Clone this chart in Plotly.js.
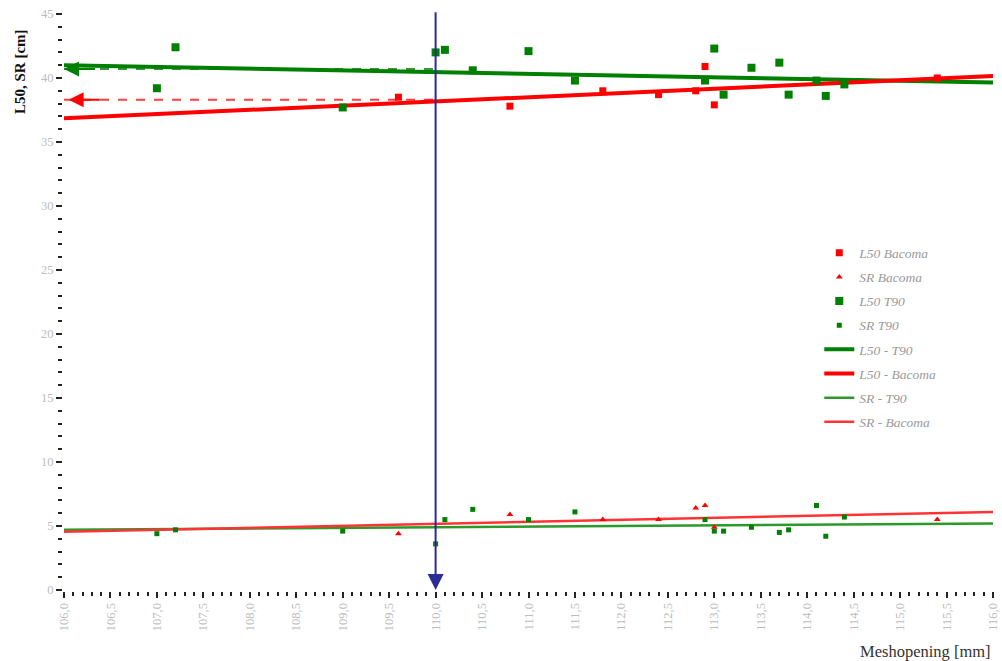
<!DOCTYPE html>
<html>
<head>
<meta charset="utf-8">
<script src="https://cdn.plot.ly/plotly-3.0.1.min.js"></script>
<style>
html,body{margin:0;padding:0;background:#fff;}
#chart{width:1002px;height:661px;}
</style>
</head>
<body>
<div id="chart"></div>
<script>
// ---- data ----
const l50BacomaX = [109.6, 110.8, 111.8, 112.4, 112.8, 112.9, 113.0, 115.4];
const l50BacomaY = [38.5, 37.8, 39.0, 38.7, 39.0, 40.9, 37.9, 40.0];

const srBacomaX = [109.6, 110.8, 111.8, 112.4, 112.8, 112.9, 113.0, 115.4];
const srBacomaY = [4.4, 5.9, 5.5, 5.5, 6.4, 6.6, 4.9, 5.5];

const l50T90X = [107.0, 107.2, 109.0, 110.0, 110.1, 110.4, 111.0, 111.5, 112.9, 113.0, 113.1, 113.4, 113.7, 113.8, 114.1, 114.2, 114.4];
const l50T90Y = [39.2, 42.4, 37.7, 42.0, 42.2, 40.6, 42.1, 39.8, 39.8, 42.3, 38.7, 40.8, 41.2, 38.7, 39.8, 38.6, 39.5];

const srT90X = [107.0, 107.2, 109.0, 110.0, 110.1, 110.4, 111.0, 111.5, 112.9, 113.0, 113.1, 113.4, 113.7, 113.8, 114.1, 114.2, 114.4];
const srT90Y = [4.4, 4.7, 4.6, 3.6, 5.5, 6.3, 5.5, 6.1, 5.5, 4.6, 4.6, 4.9, 4.5, 4.7, 6.6, 4.2, 5.7];

// regression lines (end values)
const trendX = [106.0, 116.0];
const l50T90Trend = [41.0, 39.65];
const l50BacomaTrend = [36.85, 40.15];
const srT90Trend = [4.7, 5.2];
const srBacomaTrend = [4.55, 6.1];

// read-off at the selected mesh opening
const selectedMesh = 110.0;
const readX = [106.0, 110.0];
const readL50T90 = 40.7;
const readL50Bacoma = 38.3;

const legendNames = ["L50 Bacoma", "SR Bacoma", "L50 T90", "SR T90",
                     "L50 - T90", "L50 - Bacoma", "SR - T90", "SR - Bacoma"];

// ---- styles ----
const RED = "#ff0000", GREEN = "#008000", GREEN_L = "#2a9a2a", RED_L = "#ff3333";
const serif = "Liberation Serif, Times New Roman, serif";

const traces = [
  {x: l50BacomaX, y: l50BacomaY, name: legendNames[0], mode: "markers", type: "scatter",
   marker: {symbol: "square", size: 7, color: RED}, legendgroup: "g1", zorder: 2},
  {x: srBacomaX, y: srBacomaY, name: legendNames[1], mode: "markers", type: "scatter",
   marker: {symbol: "triangle-up", size: 6, color: RED}, legendgroup: "g2", zorder: 2},
  {x: l50T90X, y: l50T90Y, name: legendNames[2], mode: "markers", type: "scatter",
   marker: {symbol: "square", size: 8, color: GREEN}, legendgroup: "g3", zorder: 2},
  {x: srT90X, y: srT90Y, name: legendNames[3], mode: "markers", type: "scatter",
   marker: {symbol: "square", size: 5, color: GREEN}, legendgroup: "g4", zorder: 2},
  {x: trendX, y: l50T90Trend, name: legendNames[4], mode: "lines", type: "scatter",
   line: {color: GREEN, width: 4}, legendgroup: "g5", zorder: 1},
  {x: trendX, y: l50BacomaTrend, name: legendNames[5], mode: "lines", type: "scatter",
   line: {color: RED, width: 4}, legendgroup: "g6", zorder: 1},
  {x: trendX, y: srT90Trend, name: legendNames[6], mode: "lines", type: "scatter",
   line: {color: GREEN_L, width: 2.5}, legendgroup: "g7", zorder: 1},
  {x: trendX, y: srBacomaTrend, name: legendNames[7], mode: "lines", type: "scatter",
   line: {color: RED_L, width: 2.5}, legendgroup: "g8", zorder: 1},
  // dashed read-off lines
  {x: readX, y: [readL50T90, readL50T90], mode: "lines", type: "scatter", showlegend: false,
   line: {color: "#3c963c", width: 2, dash: "dash"}, hoverinfo: "skip", zorder: 0},
  {x: readX, y: [readL50Bacoma, readL50Bacoma], mode: "lines", type: "scatter", showlegend: false,
   line: {color: "#ff4040", width: 2, dash: "dash"}, hoverinfo: "skip", zorder: 0}
];

const layout = {
  width: 1002, height: 661,
  margin: {l: 64, r: 9, t: 14, b: 71},
  paper_bgcolor: "#fff", plot_bgcolor: "#fff",
  separators: ",.",
  showlegend: true,
  legend: {
    x: 0.813, xanchor: "left", y: 0.612, yanchor: "top",
    traceorder: "grouped", tracegroupgap: 3.6,
    font: {family: serif, size: 13.5, color: "#9a9a9a", style: "italic"},
    bgcolor: "rgba(0,0,0,0)"
  },
  xaxis: {
    range: [106.0, 116.0], showgrid: false, zeroline: false,
    showline: true, linecolor: "#222", linewidth: 2,
    ticks: "outside", ticklen: 6, tickwidth: 2, tickcolor: "#222",
    dtick: 0.5, tick0: 106, tickformat: ".1f", tickangle: -90,
    tickfont: {family: serif, size: 12.5, color: "#bcbcbc"},
    minor: {dtick: 0.1, ticks: "outside", ticklen: 4, tickwidth: 2, tickcolor: "#222", showgrid: false}
  },
  yaxis: {
    range: [0, 45], showgrid: false, zeroline: false,
    showline: true, linecolor: "#222", linewidth: 2,
    ticks: "outside", ticklen: 6, tickwidth: 2, tickcolor: "#222",
    dtick: 5, tick0: 0,
    tickfont: {family: serif, size: 12.5, color: "#bcbcbc"},
    minor: {dtick: 1, ticks: "outside", ticklen: 4, tickwidth: 2, tickcolor: "#222", showgrid: false}
  },
  annotations: [
    {xref: "paper", yref: "paper", x: -0.048, y: 0.9, xanchor: "center", yanchor: "middle",
     text: "<b>L50, SR [cm]</b>", textangle: -90, showarrow: false,
     font: {family: serif, size: 15, color: "#111"}},
    {xref: "paper", yref: "paper", x: 1.0, y: -0.087, xanchor: "right", yanchor: "top",
     text: "Meshopening [mm]", showarrow: false,
     font: {family: serif, size: 16.5, color: "#333"}},
    // blue arrow at the selected mesh opening
    {x: selectedMesh, y: 0, xref: "x", yref: "y", ax: selectedMesh, ay: 45.25, axref: "x", ayref: "y",
     showarrow: true, arrowhead: 2, arrowsize: 1.6, arrowwidth: 2, arrowcolor: "#2b2b96", text: ""},
    // arrowheads of the read-off lines
    {x: readX[0], y: readL50T90, xref: "x", yref: "y", ax: readX[0] + 0.35, ay: readL50T90, axref: "x", ayref: "y",
     showarrow: true, arrowhead: 2, arrowsize: 1.5, arrowwidth: 2, arrowcolor: GREEN, text: ""},
    {x: readX[0] + 0.05, y: readL50Bacoma, xref: "x", yref: "y", ax: readX[0] + 0.4, ay: readL50Bacoma, axref: "x", ayref: "y",
     showarrow: true, arrowhead: 2, arrowsize: 1.5, arrowwidth: 2, arrowcolor: RED, text: ""}
  ]
};

Plotly.newPlot("chart", traces, layout, {displayModeBar: false, staticPlot: true});
</script>
</body>
</html>
